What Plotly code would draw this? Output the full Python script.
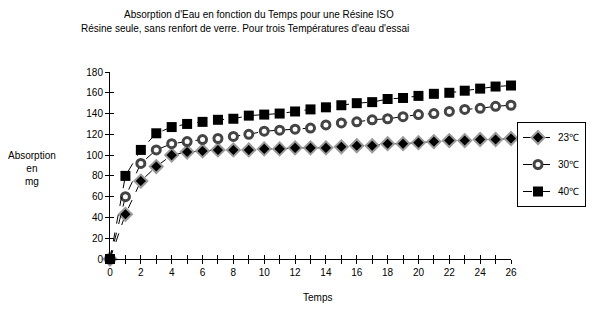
import plotly.graph_objects as go

temps = list(range(0, 27))
s23 = [0, 43, 75, 89, 100, 103, 104, 105, 105, 105, 106, 106, 107, 107,
       107, 108, 109, 109, 111, 111, 112, 113, 114, 114, 115, 115, 116]
s30 = [0, 60, 92, 105, 111, 113, 115, 116, 118, 120, 123, 124, 125, 126,
       129, 131, 132, 134, 135, 137, 139, 140, 142, 144, 145, 147, 148]
s40 = [0, 80, 105, 121, 127, 130, 132, 134, 135, 138, 139, 140, 142, 144,
       146, 148, 150, 151, 154, 155, 157, 159, 160, 162, 164, 166, 167]
names = ["23℃", "30℃", "40℃"]
x_ticks = list(range(0, 27, 2))
y_ticks = list(range(0, 181, 20))

FONT = "Liberation Sans, Arial, sans-serif"
W, H = 589, 308

fig = go.Figure()
fig.add_trace(go.Scatter(
    x=temps, y=s23, name=names[0], mode="lines+markers", legendgroup="a",
    line=dict(color="black", width=1, dash="dash"),
    marker=dict(symbol="diamond", size=10, color="black",
                line=dict(color="#9a9a9a", width=2)),
    cliponaxis=False))
fig.add_trace(go.Scatter(
    x=temps, y=s30, name=names[1], mode="lines+markers", legendgroup="b",
    line=dict(color="black", width=1, dash="dash"),
    marker=dict(symbol="circle", size=8, color="white",
                line=dict(color="#444444", width=3)),
    cliponaxis=False))
fig.add_trace(go.Scatter(
    x=temps, y=s40, name=names[2], mode="lines+markers", legendgroup="c",
    line=dict(color="black", width=1, dash="dash"),
    marker=dict(symbol="square", size=10, color="black",
                line=dict(color="black", width=0)),
    cliponaxis=False))

axis_common = dict(showgrid=False, zeroline=False, showline=True,
                   linecolor="black", linewidth=1, ticklen=4,
                   tickcolor="black", tickwidth=1, automargin=False)

fig.update_layout(
    width=W, height=H,
    margin=dict(l=102, r=86, t=64, b=57, autoexpand=False),
    paper_bgcolor="white", plot_bgcolor="white",
    font=dict(family=FONT, size=10, color="black"),
    showlegend=True,
    legend=dict(xref="container", yref="container",
                x=(517 - 8) / W, y=1 - (122 - 8) / H,
                xanchor="left", yanchor="top",
                bordercolor="black", borderwidth=1, bgcolor="white",
                font=dict(family=FONT, size=10, color="black"),
                traceorder="grouped", tracegroupgap=8,
                itemwidth=30),
    xaxis=dict(range=[0, 26], tickmode="array", tickvals=x_ticks,
               ticktext=[str(v) for v in x_ticks], ticks="outside",
               minor=dict(dtick=1, tick0=0, ticks="outside", ticklen=4,
                          tickcolor="black"),
               **axis_common),
    yaxis=dict(range=[0, 180], tickmode="array", tickvals=y_ticks,
               ticktext=[str(v) for v in y_ticks], ticks="outside",
               **axis_common),
    xaxis2=dict(range=[0, 26], overlaying="x", anchor="y", side="bottom",
                showgrid=False, zeroline=False, showline=False,
                tickmode="linear", tick0=0, dtick=1, ticks="inside",
                ticklen=4, tickcolor="black", showticklabels=False),
    yaxis2=dict(range=[0, 180], overlaying="y", anchor="x", side="left",
                showgrid=False, zeroline=False, showline=False,
                tickmode="linear", tick0=0, dtick=20, ticks="inside",
                ticklen=4, tickcolor="black", showticklabels=False),
    annotations=[
        dict(text="Absorption d'Eau en fonction du Temps pour une Résine ISO",
             xref="paper", yref="paper", x=(259 - 110) / 401,
             y=(259 - 15) / 187, xanchor="center", yanchor="middle",
             showarrow=False, font=dict(size=10)),
        dict(text="Résine seule, sans renfort de verre. Pour trois Températures d'eau d'essai",
             xref="paper", yref="paper", x=(245 - 110) / 401,
             y=(259 - 29) / 187, xanchor="center", yanchor="middle",
             showarrow=False, font=dict(size=10)),
        dict(text="Absorption<br>en<br>mg", xref="paper", yref="paper",
             x=(32 - 110) / 401, y=(259 - 168) / 187, xanchor="center",
             yanchor="middle", showarrow=False, align="center",
             font=dict(size=10)),
        dict(text="Temps", xref="paper", yref="paper",
             x=(317 - 110) / 401, y=(259 - 297) / 187, xanchor="center",
             yanchor="middle", showarrow=False, font=dict(size=10)),
    ],
)

fig.add_trace(go.Scatter(x=[None], y=[None], xaxis="x2", yaxis="y2",
                         showlegend=False, hoverinfo="skip"))

fig.write_html("out.html")
